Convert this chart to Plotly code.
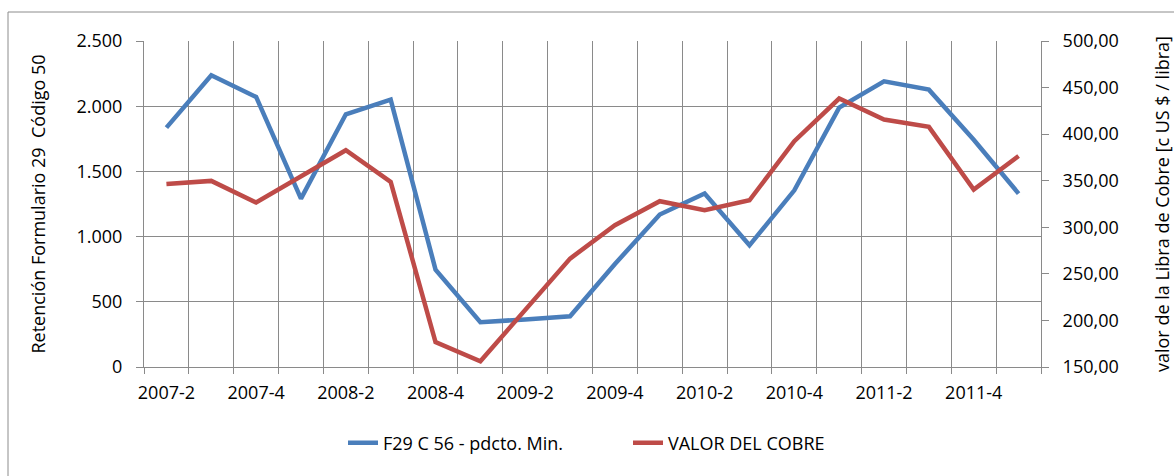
import plotly.graph_objects as go

categories = ["2007-2", "2007-3", "2007-4", "2008-1", "2008-2", "2008-3", "2008-4",
              "2009-1", "2009-2", "2009-3", "2009-4", "2010-1", "2010-2", "2010-3",
              "2010-4", "2011-1", "2011-2", "2011-3", "2011-4", "2012-1"]
retencion = [1836, 2237, 2071, 1291, 1938, 2050, 747, 343, 365, 389, 790, 1169,
             1330, 933, 1355, 1989, 2191, 2127, 1742, 1330]
valor_cobre = [346.5, 349.8, 326.6, 354.5, 382.7, 348.7, 176.8, 156.1, 212.0, 266.4,
               302.2, 328.0, 318.3, 329.0, 392.4, 438.2, 415.7, 407.8, 340.5, 376.6]
tick_text = [c if i % 2 == 0 else "" for i, c in enumerate(categories)]

name_blue = "F29 C 56 - pdcto. Min."
name_red = "VALOR DEL COBRE"

FONT = "Open Sans"
FS = 18
GRID = "#8a8a8a"

fig = go.Figure()
fig.add_trace(go.Scatter(x=categories, y=retencion, name=name_blue, mode="lines",
                         line=dict(color="#4a7ebb", width=4.5)))
fig.add_trace(go.Scatter(x=categories, y=valor_cobre, name=name_red, mode="lines",
                         yaxis="y2", line=dict(color="#be4b48", width=4.5)))

L, R, T, B = 144, 133, 41, 109
W, H = 1174, 476
pw, ph = W - L - R, H - T - B

def px_x(x):
    return (x - L) / pw

def px_y(y):
    return (H - B - y) / ph

fig.update_layout(
    width=W, height=H,
    margin=dict(l=L, r=R, t=T, b=B, autoexpand=False),
    paper_bgcolor="white", plot_bgcolor="white",
    separators=",.",
    font=dict(family=FONT, size=FS, color="#000000"),
    showlegend=True,
    legend=dict(orientation="h", x=px_x(343), xanchor="left", y=px_y(443), yanchor="middle",
                font=dict(size=FS), entrywidth=240, entrywidthmode="pixels",
                tracegroupgap=0),
    xaxis=dict(type="category", range=[-0.5, len(categories) - 0.5], automargin=False,
               tickmode="array", tickvals=categories, ticktext=tick_text,
               tickson="boundaries", showgrid=True, gridcolor=GRID, gridwidth=1,
               showline=True, linecolor=GRID, linewidth=1, ticks="outside",
               ticklen=6, tickcolor=GRID, tickangle=0, ticklabelstandoff=9,
               tickfont=dict(size=FS), zeroline=False),
    yaxis=dict(range=[0, 2500], tickmode="linear", tick0=0, dtick=500, tickformat=",d",
               automargin=False,
               showgrid=True, gridcolor=GRID, gridwidth=1, showline=True, linecolor=GRID,
               linewidth=1, ticks="outside", ticklen=7, tickcolor=GRID, zeroline=False,
               ticklabelstandoff=10, tickfont=dict(size=FS),
               title=dict(text="Retención Formulario 29  Código 50", font=dict(size=FS),
                          standoff=26)),
    yaxis2=dict(range=[150, 500], tickmode="linear", tick0=150, dtick=50, tickformat=",.2f",
                automargin=False,
                overlaying="y", side="right", showgrid=False, showline=True, linecolor=GRID,
                linewidth=1, ticks="outside", ticklen=7, tickcolor=GRID, zeroline=False,
                ticklabelstandoff=10, tickfont=dict(size=FS),
                title=dict(text="valor de la Libra de Cobre [c US $ / libra]",
                           font=dict(size=FS), standoff=45)),
)

# outer chart border (top and left edges visible in the reference)
fig.add_shape(type="line", xref="paper", yref="paper", x0=px_x(8), x1=px_x(W + 5),
              y0=px_y(12), y1=px_y(12), line=dict(color="#8c8c8c", width=1))
fig.add_shape(type="line", xref="paper", yref="paper", x0=px_x(8), x1=px_x(8),
              y0=px_y(12), y1=px_y(H + 5), line=dict(color="#8c8c8c", width=1))

fig.write_html("out.html", config={"displayModeBar": False},
               post_script="document.body.style.margin='0';document.body.style.overflow='hidden';")
